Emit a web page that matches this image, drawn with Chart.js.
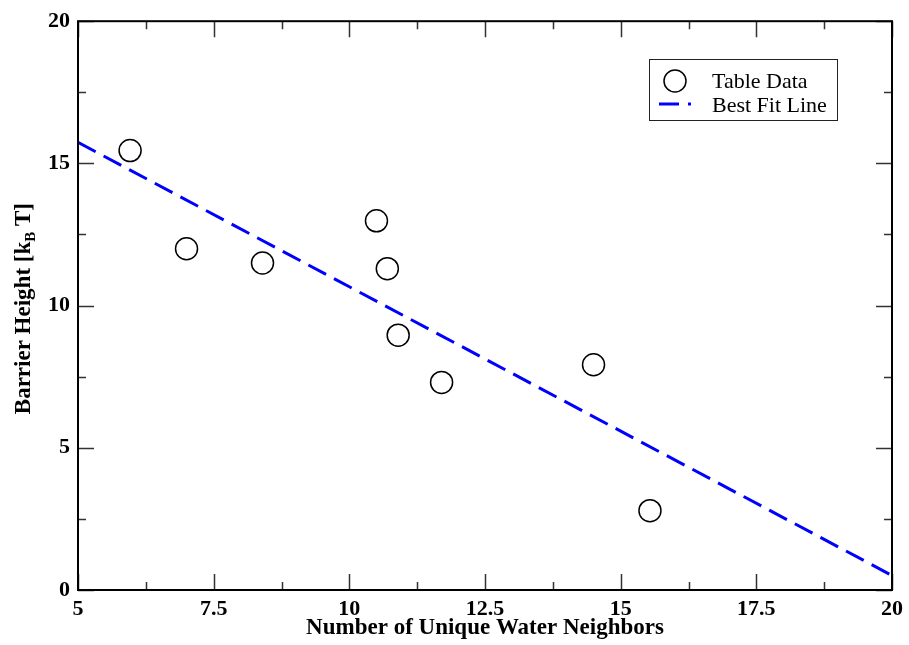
<!DOCTYPE html>
<html>
<head>
<meta charset="utf-8">
<script src="https://cdn.jsdelivr.net/npm/chart.js@4.4.1/dist/chart.umd.min.js"></script>
<style>
  html, body { margin: 0; padding: 0; background: #ffffff; }
  #wrap { width: 909px; height: 645px; }
</style>
</head>
<body>
<div id="wrap"><canvas id="chart" width="909" height="645"></canvas></div>
<script>
// Measured barrier heights against the number of unique water neighbours
const neighbors = [5.96, 7.0, 8.4, 10.5, 10.7, 10.9, 11.7, 14.5, 15.54];
const barrier   = [15.45, 12.0, 11.5, 12.98, 11.3, 8.96, 7.3, 7.92, 2.79];

// End points of the fitted line
const fitX = [5, 20];
const fitY = [15.74, 0.51];

const xTicks = [5, 7.5, 10, 12.5, 15, 17.5, 20];
const yTicks = [0, 5, 10, 15, 20];
const xMinorStep = 1.25;
const yMinorStep = 2.5;

const legendLabels = ['Table Data', 'Best Fit Line'];
const xTitle = 'Number of Unique Water Neighbors';

const SERIF = '"Liberation Serif", "Times New Roman", serif';
const BLUE = '#0000ff';
const DASH = [20, 9];

const framePlugin = {
  id: 'frame',
  afterDraw(chart) {
    const ctx = chart.ctx;
    const a = chart.chartArea;
    const xs = chart.scales.x, ys = chart.scales.y;
    ctx.save();

    // inward tick marks on all four sides
    ctx.strokeStyle = '#333333';
    ctx.lineWidth = 1.5;
    const major = 16, minor = 8;
    for (let v = xs.min; v <= xs.max + 1e-9; v += xMinorStep) {
      const isMajor = Math.abs(v / 2.5 - Math.round(v / 2.5)) < 1e-6;
      const len = isMajor ? major : minor;
      const px = Math.round(xs.getPixelForValue(v)) + 0.5;
      ctx.beginPath();
      ctx.moveTo(px, a.bottom); ctx.lineTo(px, a.bottom - len);
      ctx.moveTo(px, a.top); ctx.lineTo(px, a.top + len);
      ctx.stroke();
    }
    for (let v = ys.min; v <= ys.max + 1e-9; v += yMinorStep) {
      const isMajor = Math.abs(v / 5 - Math.round(v / 5)) < 1e-6;
      const len = isMajor ? major : minor;
      const py = Math.round(ys.getPixelForValue(v)) + 0.5;
      ctx.beginPath();
      ctx.moveTo(a.left, py); ctx.lineTo(a.left + len, py);
      ctx.moveTo(a.right, py); ctx.lineTo(a.right - len, py);
      ctx.stroke();
    }

    // plot frame
    ctx.strokeStyle = '#000000';
    ctx.lineWidth = 2;
    ctx.strokeRect(a.left, a.top, a.right - a.left, a.bottom - a.top);

    // x axis title
    ctx.fillStyle = '#000000';
    ctx.font = 'bold 23px ' + SERIF;
    ctx.textAlign = 'center';
    ctx.textBaseline = 'alphabetic';
    ctx.fillText(xTitle, (a.left + a.right) / 2, 634);

    // y axis title with subscript B
    ctx.save();
    ctx.translate(30, (a.top + a.bottom) / 2 + 3);
    ctx.rotate(-Math.PI / 2);
    const big = 'bold 23px ' + SERIF, small = 'bold 15px ' + SERIF;
    const parts = [
      { t: 'Barrier Height [k', f: big, dy: 0 },
      { t: 'B', f: small, dy: 5 },
      { t: ' T]', f: big, dy: 0 }
    ];
    let total = 0;
    parts.forEach(p => { ctx.font = p.f; p.w = ctx.measureText(p.t).width; total += p.w; });
    let cx = -total / 2;
    ctx.textAlign = 'left';
    parts.forEach(p => { ctx.font = p.f; ctx.fillText(p.t, cx, p.dy); cx += p.w; });
    ctx.restore();

    // legend box
    const lx = 649.5, ly = 59.5, lw = 188, lh = 61;
    ctx.fillStyle = '#ffffff';
    ctx.fillRect(lx, ly, lw, lh);
    ctx.strokeStyle = '#222222';
    ctx.lineWidth = 1;
    ctx.strokeRect(lx, ly, lw, lh);

    ctx.beginPath();
    ctx.strokeStyle = '#000000';
    ctx.lineWidth = 1.5;
    ctx.arc(675, 81, 11, 0, Math.PI * 2);
    ctx.stroke();

    ctx.beginPath();
    ctx.strokeStyle = BLUE;
    ctx.lineWidth = 3;
    ctx.setLineDash(DASH);
    ctx.moveTo(659, 104); ctx.lineTo(691, 104);
    ctx.stroke();
    ctx.setLineDash([]);

    ctx.fillStyle = '#000000';
    ctx.font = '22px ' + SERIF;
    ctx.textAlign = 'left';
    ctx.fillText(legendLabels[0], 712, 88);
    ctx.fillText(legendLabels[1], 712, 112);

    ctx.restore();
  }
};

new Chart(document.getElementById('chart'), {
  type: 'scatter',
  data: {
    datasets: [
      {
        label: legendLabels[0],
        data: neighbors.map((x, i) => ({ x, y: barrier[i] })),
        pointStyle: 'circle',
        pointRadius: 11,
        pointHoverRadius: 11,
        borderColor: '#000000',
        backgroundColor: 'rgba(0,0,0,0)',
        borderWidth: 1.5,
        order: 1
      },
      {
        type: 'line',
        label: legendLabels[1],
        data: fitX.map((x, i) => ({ x, y: fitY[i] })),
        borderColor: BLUE,
        borderWidth: 3,
        borderDash: DASH,
        pointRadius: 0,
        fill: false,
        order: 2
      }
    ]
  },
  options: {
    responsive: false,
    animation: false,
    events: [],
    layout: { padding: { left: 0, top: 19, right: 16, bottom: 0 } },
    plugins: {
      legend: { display: false },
      tooltip: { enabled: false }
    },
    scales: {
      x: {
        type: 'linear',
        min: 5, max: 20,
        border: { display: false },
        grid: { display: false, drawTicks: false },
        afterBuildTicks: s => { s.ticks = xTicks.map(v => ({ value: v })); },
        afterFit: s => { s.height = 55; },
        ticks: {
          autoSkip: false, maxRotation: 0, padding: 6,
          color: '#000000',
          font: { family: SERIF, size: 22, weight: 'bold' }
        }
      },
      y: {
        type: 'linear',
        min: 0, max: 20,
        border: { display: false },
        grid: { display: false, drawTicks: false },
        afterBuildTicks: s => { s.ticks = yTicks.map(v => ({ value: v })); },
        afterFit: s => { s.width = 78; },
        ticks: {
          autoSkip: false, padding: 8,
          color: '#000000',
          font: { family: SERIF, size: 22, weight: 'bold' }
        }
      }
    }
  },
  plugins: [framePlugin]
});
</script>
</body>
</html>
